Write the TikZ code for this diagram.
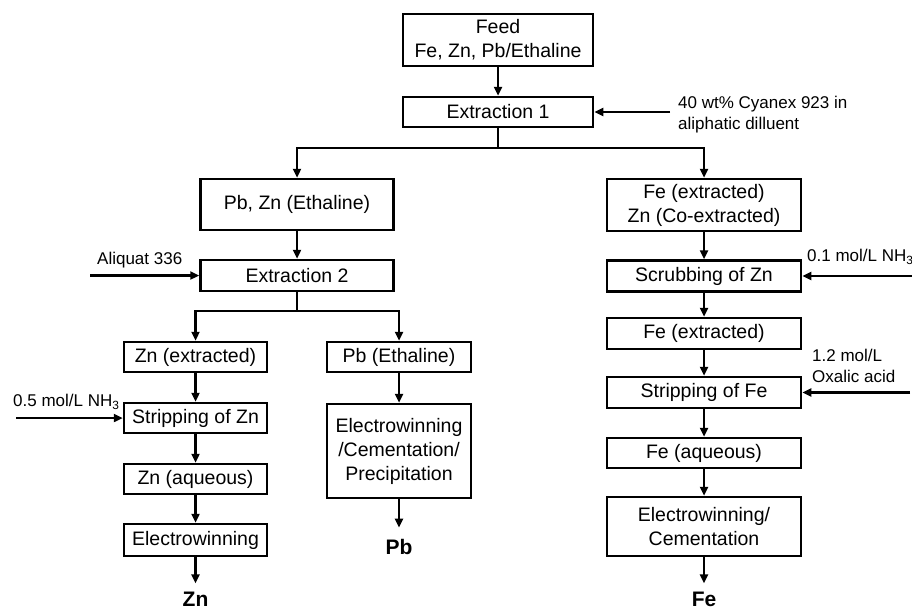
\documentclass[tikz,border=0pt]{standalone}
\usepackage{fontspec}
\setmainfont{Liberation Sans}
\usetikzlibrary{arrows.meta}
\begin{document}
\begin{tikzpicture}[x=1pt,y=-1pt,
  box/.style={draw, line width=2.5pt, inner sep=0pt, font=\fontsize{19.5}{24}\selectfont, align=center},
  lbl/.style={inner sep=0pt, font=\fontsize{17}{21}\selectfont, align=left},
  prod/.style={inner sep=0pt, font=\fontsize{21}{24}\selectfont\bfseries},
  arr/.style={line width=2.5pt, -{Triangle[length=9pt,width=8pt]}},
  ln/.style={line width=2.5pt}]
\useasboundingbox (0,0) rectangle (912,610);
% main column
\node[box, minimum width=190pt, minimum height=52pt] (feed) at (498,40) {Feed\\Fe, Zn, Pb/Ethaline};
\node[box, minimum width=190pt, minimum height=30pt] (ext1) at (498,112) {Extraction 1};
% left branch
\node[box, minimum width=193pt, minimum height=51pt] (pbzn) at (297,204.5) {Pb, Zn (Ethaline)};
\node[box, minimum width=193pt, minimum height=31pt] (ext2) at (297,275.5) {Extraction 2};
\node[box, minimum width=143pt, minimum height=30pt] (znext) at (195.5,357) {Zn (extracted)};
\node[box, minimum width=143pt, minimum height=30pt] (stripzn) at (195.5,418) {Stripping of Zn};
\node[box, minimum width=143pt, minimum height=30pt] (znaq) at (195.5,479) {Zn (aqueous)};
\node[box, minimum width=143pt, minimum height=32pt] (ewzn) at (195.5,540) {Electrowinning};
\node[prod, anchor=base] (zn) at (195.5,606) {Zn};
\node[box, minimum width=144pt, minimum height=30pt] (pbeth) at (399,357) {Pb (Ethaline)};
\node[box, minimum width=144pt, minimum height=94pt] (ewpb) at (399,451) {Electrowinning\\/Cementation/\\Precipitation};
\node[prod, anchor=base] (pb) at (399,554) {Pb};
% right branch
\node[box, minimum width=194pt, minimum height=52pt] (feze) at (704,205) {Fe (extracted)\\Zn (Co-extracted)};
\node[box, minimum width=194pt, minimum height=31pt] (scrub) at (704,276) {Scrubbing of Zn};
\node[box, minimum width=194pt, minimum height=31pt] (feext) at (704,333.5) {Fe (extracted)};
\node[box, minimum width=194pt, minimum height=31pt] (stripfe) at (704,392.5) {Stripping of Fe};
\node[box, minimum width=194pt, minimum height=30pt] (feaq) at (704,453) {Fe (aqueous)};
\node[box, minimum width=194pt, minimum height=59pt] (ewfe) at (704,526.5) {Electrowinning/\\Cementation};
\node[prod, anchor=base] (fe) at (704,606) {Fe};
% side labels
\node[lbl, anchor=west] (l1) at (678,114.5) {40 wt\% Cyanex 923 in\\aliphatic dilluent};
\node[lbl, anchor=west] (l2) at (97,260) {Aliquat 336};
\node[lbl, anchor=west] (l3) at (13,402) {0.5 mol/L NH\textsubscript{3}};
\node[lbl, anchor=west] (l4) at (807,257) {0.1 mol/L NH\textsubscript{3}};
\node[lbl, anchor=west] (l5) at (812,366) {1.2 mol/L\\Oxalic acid};
% free ends
\coordinate (in1) at (670,112);
\coordinate (in2) at (90,275.5);
\coordinate (in3) at (16,418);
\coordinate (in4) at (912,276);
\coordinate (in5) at (910,392.5);
\coordinate (j1) at (498,148);
\coordinate (j2) at (297,311);
% connectors
\draw[arr] (feed) -- (ext1);
\draw[ln] (ext1) -- (j1);
\draw[arr] (j1) -| (pbzn);
\draw[arr] (j1) -| (feze);
\draw[arr] (pbzn) -- (ext2);
\draw[ln] (ext2) -- (j2);
\draw[arr] (j2) -| (znext);
\draw[arr] (j2) -| (pbeth);
\draw[arr] (znext) -- (stripzn);
\draw[arr] (stripzn) -- (znaq);
\draw[arr] (znaq) -- (ewzn);
\draw[arr, shorten >=8pt] (ewzn) -- (zn);
\draw[arr] (pbeth) -- (ewpb);
\draw[arr, shorten >=11pt] (ewpb) -- (pb);
\draw[arr] (feze) -- (scrub);
\draw[arr] (scrub) -- (feext);
\draw[arr] (feext) -- (stripfe);
\draw[arr] (stripfe) -- (feaq);
\draw[arr] (feaq) -- (ewfe);
\draw[arr, shorten >=8pt] (ewfe) -- (fe);
\draw[arr] (in1) -- (ext1);
\draw[arr] (in2) -- (ext2);
\draw[arr] (in3) -- (stripzn);
\draw[arr] (in4) -- (scrub);
\draw[arr] (in5) -- (stripfe);
\end{tikzpicture}
\end{document}
